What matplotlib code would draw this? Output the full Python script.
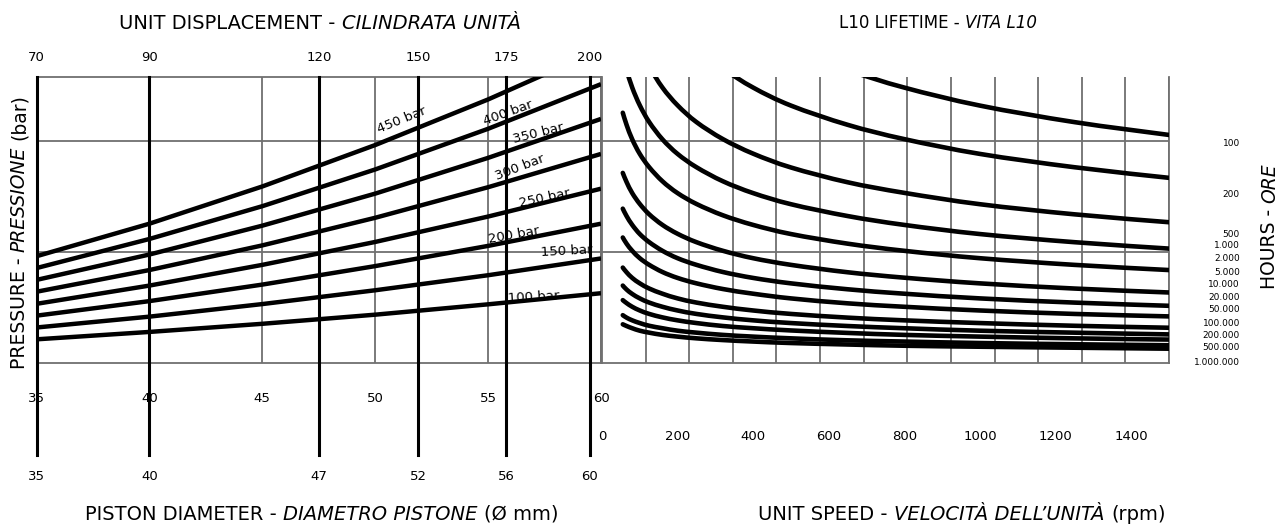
import numpy as np
import matplotlib
matplotlib.use("Agg")
import matplotlib.pyplot as plt
from matplotlib.path import Path
from matplotlib.patches import PathPatch
from matplotlib.transforms import IdentityTransform

plt.rcParams['font.family'] = ['DejaVu Sans']

# ---------------- data ----------------
# unit displacement (cc) and where each unit sits on the piston-diameter scale
displacement_cc = [70, 90, 120, 150, 175, 200]
unit_diameter_pos = [35, 40, 47.5, 51.9, 55.8, 59.5]
unit_diameter_labels = ["35", "40", "47", "52", "56", "60"]

# piston diameter grid (mm)
diameter_mm = [35, 40, 45, 50, 55, 60]

# pressure lines: load (kN) read at each piston diameter
p100 = [9.6, 12.6, 15.9, 19.6, 23.8, 28.3]
p150 = [14.4, 18.8, 23.9, 29.5, 35.6, 42.4]
p200 = [19.2, 25.1, 31.8, 39.3, 47.5, 56.5]
p250 = [24.0, 31.4, 39.8, 49.1, 59.4, 70.7]
p300 = [28.9, 37.7, 47.7, 58.9, 71.3, 84.8]
p350 = [33.7, 44.0, 55.7, 68.7, 83.2, 99.0]
p400 = [38.5, 50.3, 63.6, 78.5, 95.0, 113.1]
p450 = [43.3, 56.5, 71.6, 88.4, 106.9, 127.2]
pressure_lines = {"100 bar": p100, "150 bar": p150, "200 bar": p200, "250 bar": p250,
                  "300 bar": p300, "350 bar": p350, "400 bar": p400, "450 bar": p450}

# L10 lifetime curves: load (kN) vs unit speed (rpm)
speed_rpm = [55, 65, 80, 100, 125, 160, 200, 250, 320, 400, 500, 650, 800, 1000, 1250, 1500]
h100 = [249.4, 237.2, 222.8, 208.4, 195.0, 181.0, 169.3, 158.4, 147.1, 137.5, 128.6, 118.9, 111.7, 104.4, 97.7, 92.5]
h200 = [202.6, 192.7, 181.0, 169.3, 158.4, 147.0, 137.5, 128.6, 119.5, 111.7, 104.4, 96.6, 90.8, 84.8, 79.4, 75.1]
h500 = [153.9, 146.4, 137.5, 128.6, 120.3, 111.7, 104.5, 97.7, 90.8, 84.9, 79.3, 73.3, 69.0, 64.4, 60.3, 57.1]
h1k = [125.0, 118.9, 111.7, 104.5, 97.7, 90.7, 84.8, 79.4, 73.7, 68.9, 64.4, 59.6, 56.0, 52.3, 49.0, 46.4]
h2k = [101.5, 96.6, 90.7, 84.8, 79.4, 73.7, 68.9, 64.5, 59.9, 56.0, 52.3, 48.4, 45.5, 42.5, 39.8, 37.7]
h5k = [77.1, 73.4, 68.9, 64.5, 60.3, 56.0, 52.4, 49.0, 45.5, 42.5, 39.8, 36.8, 34.6, 32.3, 30.2, 28.6]
h10k = [62.6, 59.6, 56.0, 52.3, 49.0, 45.5, 42.5, 39.8, 36.9, 34.5, 32.3, 29.9, 28.1, 26.2, 24.5, 23.2]
h20k = [50.9, 48.4, 45.5, 42.5, 39.8, 36.9, 34.5, 32.3, 30.0, 28.1, 26.2, 24.2, 22.8, 21.3, 19.9, 18.9]
h50k = [38.7, 36.8, 34.5, 32.3, 30.2, 28.1, 26.2, 24.5, 22.8, 21.3, 19.9, 18.4, 17.3, 16.2, 15.1, 14.3]
h100k = [31.4, 29.8, 28.0, 26.2, 24.5, 22.8, 21.3, 19.9, 18.5, 17.3, 16.2, 15.0, 14.1, 13.1, 12.3, 11.6]
h200k = [25.5, 24.3, 22.8, 21.3, 19.9, 18.5, 17.3, 16.2, 15.0, 14.1, 13.2, 12.2, 11.4, 10.7, 10.0, 9.5]
h500k = [19.4, 18.4, 17.3, 16.2, 15.1, 14.1, 13.1, 12.3, 11.4, 10.7, 10.0, 9.2, 8.7, 8.1, 7.6, 7.2]
h1m = [15.7, 15.0, 14.1, 13.1, 12.3, 11.4, 10.7, 10.0, 9.3, 8.7, 8.1, 7.5, 7.0, 6.6, 6.2, 5.8]
life_curves = [h100, h200, h500, h1k, h2k, h5k, h10k, h20k, h50k, h100k, h200k, h500k, h1m]

hours_labels = ["100", "200", "500", "1.000", "2.000", "5.000", "10.000", "20.000",
                "50.000", "100.000", "200.000", "500.000", "1.000.000"]
speed_labels = [0, 200, 400, 600, 800, 1000, 1200, 1400]

# ---------------- layout ----------------
W, H = 1286, 527
fig = plt.figure(figsize=(W / 100, H / 100), dpi=100)


def box(x0, y0, x1, y1):
    return [x0 / W, 1 - y1 / H, (x1 - x0) / W, (y1 - y0) / H]


GRAY = '#707070'
YMAX = 116
TICK_FS = 9.5
ax1 = fig.add_axes(box(36.5, 77, 601, 363))
ax2 = fig.add_axes(box(602, 77, 1169, 363))

# ---- left panel ----
ax1.set_xlim(35, 60)
ax1.set_ylim(0, YMAX)
ax1.set_xticks(diameter_mm, [str(d) for d in diameter_mm])
ax1.set_yticks([45, 90])
ax1.grid(True, color=GRAY, lw=1.3)
ax1.tick_params(axis='x', length=0, pad=21, labelsize=TICK_FS)
ax1.tick_params(axis='y', length=0, labelleft=False)
for s in ['top', 'right', 'bottom']:
    ax1.spines[s].set_color(GRAY)
    ax1.spines[s].set_linewidth(1.3)
ax1.spines['left'].set_visible(False)

for d in unit_diameter_pos:
    ax1.axvline(d, ymin=-0.322, ymax=1, color='k', lw=2.2, clip_on=False, zorder=3)

for name, vals in pressure_lines.items():
    ax1.plot(diameter_mm, vals, color='k', lw=3.2, solid_capstyle='butt', zorder=4)

label_pos = {"450 bar": (51.15, 98.6, 22), "400 bar": (55.9, 101.4, 20),
             "350 bar": (57.2, 93.3, 14), "300 bar": (56.4, 79.1, 21),
             "250 bar": (57.5, 66.9, 12), "200 bar": (56.15, 51.9, 10),
             "150 bar": (58.5, 45.4, 3), "100 bar": (57.0, 26.8, 3)}
for name, (x, y, r) in label_pos.items():
    ax1.text(x, y, name, rotation=r, ha='center', va='center', fontsize=9.5,
             rotation_mode='anchor', zorder=5)

top = ax1.secondary_xaxis('top')
top.set_xticks(unit_diameter_pos, [str(c) for c in displacement_cc])
top.tick_params(length=0, pad=9, labelsize=TICK_FS)
top.spines['top'].set_visible(False)

bot = ax1.secondary_xaxis('bottom')
bot.set_xticks(unit_diameter_pos, unit_diameter_labels)
bot.tick_params(length=0, pad=77, labelsize=TICK_FS)
bot.spines['bottom'].set_visible(False)

# ---- right panel ----
ax2.set_xlim(0, 1500)
ax2.set_ylim(0, YMAX)
ax2.set_xticks(speed_labels, [str(s) for s in speed_labels])
ax2.set_xticks(np.linspace(0, 1500, 14), minor=True)
ax2.set_yticks([45, 90])
ax2.grid(True, which='minor', axis='x', color=GRAY, lw=1.3)
ax2.grid(True, which='major', axis='y', color=GRAY, lw=1.3)
ax2.tick_params(axis='x', which='both', length=0, pad=48, labelsize=TICK_FS)
ax2.tick_params(axis='y', length=0, labelleft=False)
ax2.spines['top'].set_visible(False)
for s in ['left', 'right', 'bottom']:
    ax2.spines[s].set_color(GRAY)
    ax2.spines[s].set_linewidth(1.3)


def smooth_path(xs, ys):
    """Smoothed line through the read points (cubic Bezier, like a 'smoothed' chart line)."""
    pts = np.column_stack([xs, ys]).astype(float)
    verts = [pts[0]]
    codes = [Path.MOVETO]
    n = len(pts)
    for i in range(n - 1):
        p0 = pts[i - 1] if i > 0 else pts[i]
        p1, p2 = pts[i], pts[i + 1]
        p3 = pts[i + 2] if i + 2 < n else pts[i + 1]
        verts += [p1 + (p2 - p0) / 6, p2 - (p3 - p1) / 6, p2]
        codes += [Path.CURVE4] * 3
    return Path(verts, codes)


for vals in life_curves:
    ax2.add_patch(PathPatch(smooth_path(speed_rpm, vals), fill=False, lw=3.3,
                            edgecolor='k', capstyle='round', zorder=4))

hours_y = [89.2, 68.2, 52.3, 47.5, 42.2, 36.9, 32.0, 26.4, 21.5, 16.2, 11.0, 6.1, 0.4]
for lab, y in zip(hours_labels, hours_y):
    ax2.text(1.125, y, lab, transform=ax2.get_yaxis_transform(), ha='right',
             va='center', fontsize=6.5, clip_on=False)

# ---- titles (mixed upright / italic runs) ----
renderer = fig.canvas.get_renderer()


def rich(xc, yc, parts, fontsize=14, rotation=0):
    """parts: list of (text, style); centred at pixel (xc, yc) measured from top-left."""
    size_px = fontsize * 100 / 72
    space = fig.text(0, 0, "a a", fontsize=fontsize)
    nospace = fig.text(0, 0, "aa", fontsize=fontsize)
    gap = space.get_window_extent(renderer).width - nospace.get_window_extent(renderer).width
    space.remove(); nospace.remove()
    objs, lens = [], []
    for s, st in parts:
        t = fig.text(0, 0, s, fontsize=fontsize, style=st, transform=IdentityTransform(),
                     ha='left', va='baseline', rotation=rotation, rotation_mode='anchor')
        bb = t.get_window_extent(renderer)
        objs.append(t)
        lens.append(bb.width if rotation == 0 else bb.height)
    total = sum(lens) + gap * (len(parts) - 1)
    pos = -total / 2
    for t, L in zip(objs, lens):
        if rotation == 0:
            t.set_position((xc + pos, H - yc - 0.36 * size_px))
        else:
            t.set_position((xc + 0.36 * size_px, H - yc + pos))
        pos += L + gap


rich(320, 22, [("UNIT DISPLACEMENT -", 'normal'), ("CILINDRATA UNITÀ", 'italic')])
rich(938, 22, [("L10 LIFETIME -", 'normal'), ("VITA L10", 'italic')], fontsize=12)
rich(322, 513, [("PISTON DIAMETER -", 'normal'), ("DIAMETRO PISTONE", 'italic'),
                ("(Ø mm)", 'normal')])
rich(962, 513, [("UNIT SPEED -", 'normal'), ("VELOCITÀ DELL’UNITÀ", 'italic'),
                ("(rpm)", 'normal')])
rich(18, 232, [("PRESSURE -", 'normal'), ("PRESSIONE", 'italic'), ("(bar)", 'normal')],
     fontsize=13.5, rotation=90)
rich(1268, 226, [("HOURS -", 'normal'), ("ORE", 'italic')], fontsize=13.5, rotation=90)

fig.savefig("out.png", dpi=100)
